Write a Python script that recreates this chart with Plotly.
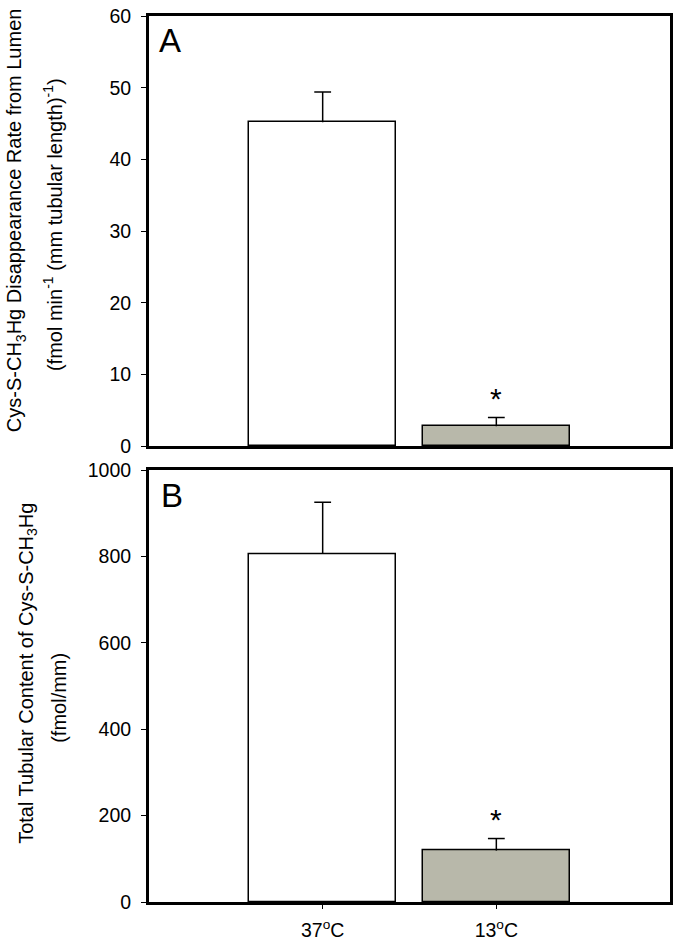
import plotly.graph_objects as go

# data
categories = ["37°C", "13°C"]
tick_labels = ["37<sup>o</sup>C", "13<sup>o</sup>C"]
rate_mean = [45.2, 2.8]
rate_err = [4.2, 1.2]
content_mean = [806, 119]
content_err = [120, 28]
bar_colors = ["#ffffff", "#b8b8aa"]

W, H = 681, 946
PL, PR, PT, PB = 148.5, 670.5, 15.5, 902  # plot area in pixels
PW = PR - PL
PH = PB - PT


def px_x(x):
    return (x - PL) / PW


def px_y(y):
    return (PB - y) / PH


font = "Liberation Sans, Arial, sans-serif"

fig = go.Figure()


def add_panel(means, errs, xa, ya):
    fig.add_trace(go.Bar(
        x=categories, y=means, width=0.85,
        marker=dict(color=bar_colors, line=dict(color="black", width=1.5)),
        xaxis=xa, yaxis=ya, showlegend=False, hoverinfo="skip",
    ))
    # upward-only error bars: stem plus a cap marker
    for c, m, e in zip(categories, means, errs):
        fig.add_trace(go.Scatter(
            x=[c, c], y=[m, m + e], mode="lines",
            line=dict(color="black", width=1.5),
            xaxis=xa, yaxis=ya, showlegend=False, hoverinfo="skip",
        ))
        fig.add_trace(go.Scatter(
            x=[c], y=[m + e], mode="markers",
            marker=dict(symbol="line-ew", size=12, line=dict(color="black", width=1.5)),
            xaxis=xa, yaxis=ya, showlegend=False, hoverinfo="skip",
        ))


add_panel(rate_mean, rate_err, "x2", "y2")
add_panel(content_mean, content_err, "x", "y")

axis_common = dict(showline=True, linecolor="black", linewidth=3, mirror=True,
                   showgrid=False, zeroline=False, automargin=False)
tick_font = dict(family=font, size=19.5, color="black")

fig.update_layout(
    width=W, height=H,
    margin=dict(l=PL, r=W - PR, t=PT, b=H - PB),
    paper_bgcolor="white", plot_bgcolor="white",
    font=dict(family=font, size=20, color="black"),
    bargap=0,
    xaxis=dict(domain=[0, 1], anchor="y", range=[-1, 2], tickmode="array",
               tickvals=categories, ticktext=tick_labels, ticks="outside",
               ticklen=4, tickwidth=1, tickcolor="black", tickfont=tick_font,
               ticklabelstandoff=5, **axis_common),
    yaxis=dict(domain=[0, px_y(470)], anchor="x", range=[0, 1000],
               tickvals=[0, 200, 400, 600, 800, 1000], ticks="outside",
               ticklen=5, tickwidth=1, tickcolor="black", tickfont=tick_font,
               ticklabelstandoff=6, **axis_common),
    xaxis2=dict(domain=[0, 1], anchor="y2", range=[-1, 2], showticklabels=False,
                ticks="", **axis_common),
    yaxis2=dict(domain=[px_y(446), 1], anchor="x2", range=[0, 60],
                tickvals=[0, 10, 20, 30, 40, 50, 60], ticks="outside",
                ticklen=5, tickwidth=1, tickcolor="black", tickfont=tick_font,
                ticklabelstandoff=6, **axis_common),
)

annotations = [
    dict(text="A", x=px_x(157), y=px_y(20), xanchor="left", yanchor="top",
         font=dict(size=33)),
    dict(text="B", x=px_x(159), y=px_y(475), xanchor="left", yanchor="top",
         font=dict(size=33)),
    dict(text="Cys-S-CH<sub>3</sub>Hg Disappearance Rate from Lumen",
         x=px_x(15), y=px_y(220), textangle=-90, xanchor="center", yanchor="middle"),
    dict(text="(fmol min<sup>-1</sup> (mm tubular length)<sup>-1</sup>)",
         x=px_x(52), y=px_y(224), textangle=-90, xanchor="center", yanchor="middle"),
    dict(text="Total Tubular Content of Cys-S-CH<sub>3</sub>Hg",
         x=px_x(26), y=px_y(673), textangle=-90, xanchor="center", yanchor="middle"),
    dict(text="(fmol/mm)", x=px_x(58), y=px_y(698), textangle=-90,
         xanchor="center", yanchor="middle"),
]
for a in annotations:
    a.update(xref="paper", yref="paper", showarrow=False)
    fig.add_annotation(**a)

# significance stars above the 13°C error bars
fig.add_annotation(x=categories[1], y=rate_mean[1] + rate_err[1], xref="x2", yref="y2",
                   text="*", showarrow=False, yanchor="bottom", yshift=1,
                   font=dict(size=30))
fig.add_annotation(x=categories[1], y=content_mean[1] + content_err[1], xref="x", yref="y",
                   text="*", showarrow=False, yanchor="bottom", yshift=1,
                   font=dict(size=30))

# drop the browser's default body margin so the figure sits at the page corner
fig.write_html("out.html", config={"displayModeBar": False},
               post_script="document.body.style.margin = '0';")
